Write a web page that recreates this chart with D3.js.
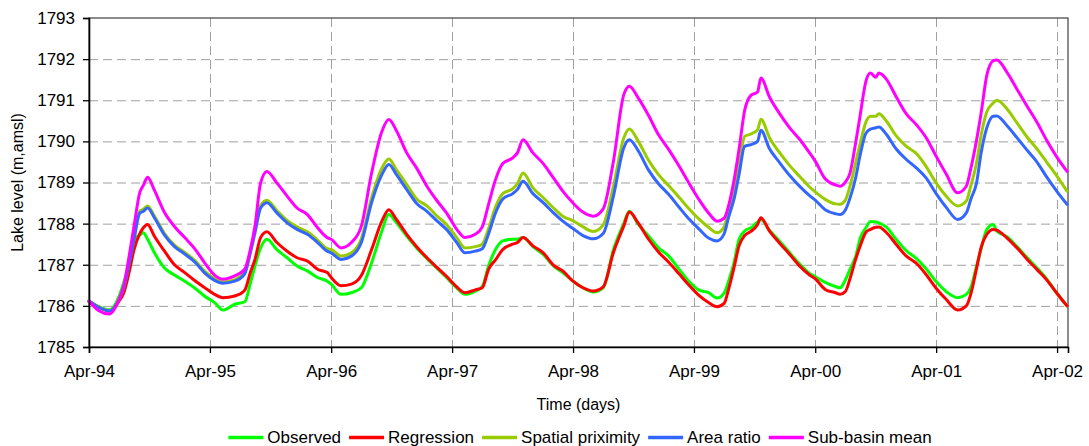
<!DOCTYPE html>
<html><head><meta charset="utf-8">
<script src="https://cdn.jsdelivr.net/npm/d3@7"></script>
<style>body{margin:0;background:#fff}svg{display:block}</style>
</head><body><svg id="c" width="1089" height="446"></svg>
<script>
const dates = [
"1994-04-01","1994-05-01","1994-06-01","1994-07-01","1994-07-15","1994-08-01","1994-08-15","1994-09-01","1994-09-12","1994-09-25","1994-10-15","1994-11-15","1994-12-15","1995-01-15","1995-02-15","1995-03-15","1995-04-15","1995-05-10","1995-06-15","1995-07-15","1995-08-01","1995-08-15","1995-09-01","1995-09-20","1995-10-20","1995-11-20","1995-12-20","1996-01-20","1996-02-20","1996-03-20",
"1996-04-01","1996-05-01","1996-06-01","1996-07-01","1996-08-01","1996-09-01","1996-09-22","1996-10-15","1996-11-15","1996-12-15","1997-01-15","1997-02-15","1997-03-15","1997-04-15","1997-05-10","1997-06-10","1997-07-01","1997-07-20","1997-08-10","1997-09-01","1997-10-01","1997-10-15","1997-11-01","1997-12-01","1998-01-01","1998-02-01","1998-03-01","1998-04-01",
"1998-05-01","1998-06-01","1998-07-01","1998-08-01","1998-09-01","1998-09-18","1998-10-15","1998-11-15","1998-12-15","1999-01-15","1999-02-15","1999-03-15","1999-04-15","1999-05-15","1999-06-10","1999-07-01","1999-07-15","1999-08-01","1999-08-15","1999-09-01","1999-09-20","1999-10-10","1999-10-20","1999-11-15","1999-12-15","2000-01-15","2000-02-15","2000-03-15","2000-04-01",
"2000-05-01","2000-06-01","2000-06-15","2000-07-01","2000-07-15","2000-08-01","2000-08-15","2000-09-01","2000-09-15","2000-10-01","2000-10-10","2000-11-01","2000-12-01","2001-01-01","2001-02-01","2001-03-01","2001-04-01","2001-05-01","2001-06-05","2001-07-01","2001-07-15","2001-08-01","2001-08-15","2001-09-01","2001-09-20","2001-10-01","2001-11-01","2001-12-01","2002-01-01","2002-02-01","2002-03-01","2002-04-01","2002-05-01"
];
const observed = [
1786.12,1785.98,1785.90,1786.24,1786.57,1787.05,1787.62,1787.72,1787.78,1787.62,1787.30,1786.92,1786.75,1786.60,1786.43,1786.24,1786.08,1785.90,1786.04,1786.10,1786.55,1786.97,1787.41,1787.62,1787.37,1787.17,1786.97,1786.85,1786.69,1786.60,
1786.53,1786.28,1786.32,1786.44,1787.05,1787.82,1788.22,1788.02,1787.70,1787.41,1787.15,1786.91,1786.69,1786.44,1786.28,1786.36,1786.47,1786.97,1787.37,1787.58,1787.62,1787.62,1787.66,1787.44,1787.25,1786.97,1786.81,1786.60,
1786.44,1786.34,1786.44,1787.37,1788.00,1788.30,1787.98,1787.70,1787.41,1787.21,1786.89,1786.61,1786.39,1786.32,1786.19,1786.31,1786.61,1787.09,1787.62,1787.82,1787.90,1788.04,1788.10,1787.84,1787.58,1787.29,1787.01,1786.79,1786.71,
1786.57,1786.47,1786.44,1786.63,1786.89,1787.20,1787.65,1787.90,1788.05,1788.04,1788.02,1787.92,1787.62,1787.34,1787.15,1786.91,1786.59,1786.35,1786.20,1786.28,1786.45,1786.97,1787.39,1787.86,1787.98,1787.82,1787.68,1787.44,1787.17,1786.91,1786.65,1786.30,1786.00
];
const regression = [
1786.10,1785.97,1785.87,1786.12,1786.32,1786.85,1787.37,1787.75,1787.90,1787.98,1787.70,1787.33,1787.00,1786.81,1786.61,1786.45,1786.28,1786.20,1786.24,1786.38,1786.81,1787.13,1787.66,1787.80,1787.54,1787.33,1787.17,1787.09,1786.89,1786.81,
1786.69,1786.49,1786.53,1786.74,1787.37,1788.06,1788.34,1788.10,1787.74,1787.44,1787.17,1786.93,1786.72,1786.46,1786.32,1786.39,1786.44,1786.89,1787.12,1787.37,1787.50,1787.54,1787.66,1787.46,1787.29,1786.99,1786.85,1786.60,
1786.44,1786.36,1786.46,1787.30,1787.94,1788.28,1788.01,1787.62,1787.31,1787.06,1786.78,1786.52,1786.26,1786.08,1785.98,1786.06,1786.42,1786.97,1787.46,1787.71,1787.81,1787.98,1788.14,1787.82,1787.53,1787.25,1786.96,1786.75,1786.66,
1786.40,1786.32,1786.28,1786.35,1786.66,1787.13,1787.46,1787.79,1787.86,1787.91,1787.92,1787.79,1787.50,1787.21,1787.03,1786.77,1786.43,1786.16,1785.90,1786.00,1786.30,1786.91,1787.43,1787.74,1787.86,1787.84,1787.65,1787.41,1787.13,1786.87,1786.63,1786.30,1786.00
];
const spatialProximity = [
1786.12,1785.97,1785.89,1786.17,1786.45,1787.08,1787.66,1788.30,1788.35,1788.43,1788.19,1787.76,1787.48,1787.30,1787.10,1786.85,1786.66,1786.58,1786.64,1786.82,1787.33,1787.83,1788.44,1788.57,1788.32,1788.08,1787.92,1787.80,1787.60,1787.39,
1787.37,1787.21,1787.29,1787.63,1788.63,1789.35,1789.57,1789.31,1788.95,1788.60,1788.43,1788.18,1787.98,1787.66,1787.41,1787.44,1787.50,1787.88,1788.40,1788.73,1788.85,1788.97,1789.23,1788.87,1788.63,1788.38,1788.18,1788.07,
1787.92,1787.81,1787.97,1788.91,1790.08,1790.30,1790.00,1789.54,1789.19,1788.92,1788.64,1788.38,1788.12,1787.91,1787.78,1787.92,1788.33,1788.83,1789.40,1790.12,1790.18,1790.28,1790.54,1790.09,1789.73,1789.41,1789.14,1788.89,1788.77,
1788.59,1788.48,1788.47,1788.57,1788.91,1789.48,1789.96,1790.47,1790.61,1790.61,1790.67,1790.50,1790.14,1789.88,1789.70,1789.40,1788.99,1788.67,1788.43,1788.55,1788.93,1789.48,1790.16,1790.72,1790.93,1791.00,1790.79,1790.45,1790.10,1789.80,1789.49,1789.15,1788.79
];
const areaRatio = [
1786.12,1785.96,1785.88,1786.16,1786.44,1787.05,1787.62,1788.25,1788.30,1788.38,1788.15,1787.72,1787.44,1787.26,1787.06,1786.81,1786.62,1786.55,1786.60,1786.78,1787.29,1787.78,1788.38,1788.51,1788.26,1788.02,1787.86,1787.74,1787.54,1787.33,
1787.29,1787.13,1787.21,1787.54,1788.51,1789.19,1789.44,1789.19,1788.83,1788.49,1788.30,1788.06,1787.86,1787.54,1787.29,1787.33,1787.39,1787.75,1788.26,1788.60,1788.73,1788.83,1789.03,1788.73,1788.51,1788.26,1788.06,1787.88,
1787.71,1787.63,1787.76,1788.67,1789.84,1790.04,1789.77,1789.30,1788.97,1788.71,1788.40,1788.13,1787.88,1787.65,1787.58,1787.75,1788.17,1788.63,1789.19,1789.88,1789.92,1790.00,1790.27,1789.82,1789.49,1789.17,1788.90,1788.68,1788.57,
1788.34,1788.24,1788.22,1788.33,1788.62,1789.11,1789.68,1790.20,1790.30,1790.33,1790.35,1790.18,1789.82,1789.56,1789.35,1789.12,1788.73,1788.40,1788.10,1788.26,1788.60,1788.99,1789.73,1790.33,1790.61,1790.62,1790.38,1790.09,1789.78,1789.48,1789.13,1788.78,1788.47
];
const subBasinMean = [
1786.12,1785.88,1785.80,1786.16,1786.49,1787.25,1787.94,1788.75,1788.93,1789.13,1788.82,1788.27,1787.93,1787.66,1787.38,1787.06,1786.75,1786.65,1786.73,1786.89,1787.37,1787.94,1788.99,1789.27,1788.99,1788.67,1788.38,1788.22,1787.90,1787.66,
1787.62,1787.41,1787.54,1787.94,1789.23,1790.24,1790.53,1790.26,1789.72,1789.35,1788.91,1788.55,1788.26,1787.86,1787.66,1787.74,1787.92,1788.47,1789.07,1789.46,1789.60,1789.72,1790.04,1789.72,1789.46,1789.11,1788.79,1788.50,
1788.28,1788.18,1788.36,1789.52,1791.13,1791.34,1791.05,1790.63,1790.16,1789.80,1789.40,1789.01,1788.60,1788.26,1788.06,1788.13,1788.45,1789.10,1789.80,1790.75,1791.12,1791.20,1791.54,1791.08,1790.68,1790.33,1790.04,1789.72,1789.52,
1789.09,1788.94,1788.91,1789.01,1789.23,1789.96,1790.65,1791.46,1791.66,1791.56,1791.66,1791.52,1791.09,1790.67,1790.40,1790.10,1789.64,1789.21,1788.75,1788.91,1789.35,1790.03,1790.70,1791.61,1791.96,1791.98,1791.68,1791.27,1790.85,1790.44,1790.02,1789.61,1789.27
];
const seriesNames = ["Observed","Regression","Spatial priximity","Area ratio","Sub-basin mean"];
const seriesColors = ["#00ff00","#ff0000","#99cc00","#3366ff","#ff00ff"];
const yTicks = [1785,1786,1787,1788,1789,1790,1791,1792,1793];
const xTickDates = ["1994-04-01","1995-04-01","1996-04-01","1997-04-01","1998-04-01","1999-04-01","2000-04-01","2001-04-01","2002-04-01"];
const xTickLabels = ["Apr-94","Apr-95","Apr-96","Apr-97","Apr-98","Apr-99","Apr-00","Apr-01","Apr-02"];
const xDomain = ["1994-04-01","2002-05-04"];

const parse = d3.utcParse("%Y-%m-%d");
const svg = d3.select("#c");
const m = {left:89, right:1068, top:18, bottom:347};
const FONT = "'Liberation Sans', Arial, sans-serif";
const x = d3.scaleUtc().domain(xDomain.map(parse)).range([m.left, m.right]);
const y = d3.scaleLinear().domain([1785,1793]).range([m.bottom, m.top]);
const tickD = xTickDates.map(parse);

// gridlines
const grid = svg.append("g");
grid.selectAll("line.h").data(yTicks.filter(v=>v>1785 && v<1793)).join("line")
  .attr("x1",m.left).attr("x2",m.right).attr("y1",d=>y(d)+0.5).attr("y2",d=>y(d)+0.5)
  .attr("stroke","#a0a0a0").attr("stroke-width",1).attr("stroke-dasharray","9,5");
grid.selectAll("line.v").data(tickD.slice(1)).join("line")
  .attr("x1",d=>Math.round(x(d))+0.5).attr("x2",d=>Math.round(x(d))+0.5).attr("y1",m.top).attr("y2",m.bottom)
  .attr("stroke","#a0a0a0").attr("stroke-width",1).attr("stroke-dasharray","9,5");

// frame
svg.append("rect").attr("x",m.left).attr("y",m.top).attr("width",m.right-m.left).attr("height",m.bottom-m.top)
  .attr("fill","none").attr("stroke","#404040").attr("stroke-width",1.2);

// series
const tables = [observed, regression, spatialProximity, areaRatio, subBasinMean];
const line = d3.line().x(d=>x(d[0])).y(d=>y(d[1])).curve(d3.curveMonotoneX);
const pd = dates.map(parse);
tables.forEach((vals,i)=>{
  svg.append("path").datum(pd.map((d,j)=>[d, vals[j]]))
    .attr("fill","none").attr("stroke",seriesColors[i]).attr("stroke-width",3)
    .attr("stroke-linejoin","round").attr("stroke-linecap","round").attr("d",line);
});

// axes
const yAxis = d3.axisLeft(y).tickValues(yTicks).tickFormat(d3.format("d")).tickSize(6).tickPadding(8);
const gy = svg.append("g").attr("transform",`translate(${m.left},0)`).call(yAxis);
const xAxis = d3.axisBottom(x).tickValues(tickD).tickFormat((d,i)=>xTickLabels[i]).tickSize(6).tickPadding(12);
const gx = svg.append("g").attr("transform",`translate(0,${m.bottom})`).call(xAxis);
[gx,gy].forEach(g=>{
  g.select(".domain").attr("stroke","#000").attr("stroke-width",1.6);
  g.selectAll(".tick line").attr("stroke","#000").attr("stroke-width",1.3);
  g.selectAll("text").attr("font-family",FONT).attr("font-size",17).attr("fill","#000");
});

// titles
svg.append("text").attr("x",(m.left+m.right)/2).attr("y",410).attr("text-anchor","middle")
  .attr("font-family",FONT).attr("font-size",16).text("Time (days)");
svg.append("text").attr("transform",`translate(23,${(m.top+m.bottom)/2}) rotate(-90)`).attr("text-anchor","middle")
  .attr("font-family",FONT).attr("font-size",16).text("Lake level (m,amsl)");

// legend
const lg = svg.append("g");
let cx = 0;
seriesNames.forEach((n,i)=>{
  const g = lg.append("g");
  g.append("line").attr("x1",0).attr("x2",35).attr("y1",0).attr("y2",0).attr("stroke",seriesColors[i]).attr("stroke-width",3.5);
  const t = g.append("text").attr("x",39).attr("y",5).attr("font-family",FONT).attr("font-size",17).text(n);
  const w = 39 + t.node().getComputedTextLength();
  g.attr("transform",`translate(${cx},437.5)`);
  cx += w + 8;
});
const total = cx - 8;
lg.attr("transform",`translate(${580 - total/2},0)`);
</script>
</body></html>
